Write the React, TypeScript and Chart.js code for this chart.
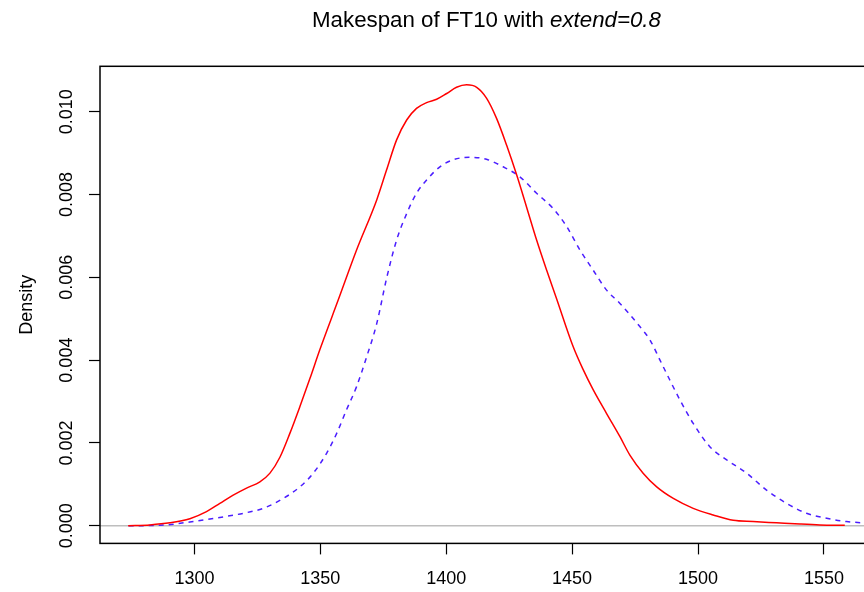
import React, { useEffect, useRef } from "react";
import { Chart, registerables } from "chart.js";

Chart.register(...registerables);

// ---- data ----
const redX = [
  1273.7, 1282.3, 1290.3, 1298.2, 1304.8, 1310.1, 1315.4, 1320.7, 1326.0, 1330.0,
  1334.0, 1337.9, 1341.9, 1345.9, 1349.8, 1357.1, 1364.4, 1372.4, 1376.3,
  1380.3, 1384.3, 1388.2, 1392.2, 1396.2, 1400.2, 1404.1, 1408.1, 1412.1, 1416.0,
  1420.0, 1424.0, 1428.0, 1431.9, 1435.9, 1439.9, 1443.8, 1450.4, 1454.4, 1458.4,
  1463.7, 1469.0, 1473.0, 1478.2, 1483.6, 1490.2, 1498.1, 1506.0, 1514.0, 1521.9,
  1531.2, 1540.5, 1548.4, 1558.3,
];
const redY = [
  0.0, 0.00002, 0.00007, 0.00017, 0.00034, 0.00054, 0.00074, 0.00091, 0.00106, 0.00127,
  0.00166, 0.00223, 0.00288, 0.00356, 0.00425, 0.00545, 0.00666, 0.00787, 0.00859,
  0.00932, 0.0098, 0.01008, 0.01022, 0.0103, 0.01044, 0.01059, 0.01065, 0.01059, 0.01033,
  0.00984, 0.00919, 0.00847, 0.0077, 0.0069, 0.00617, 0.00549, 0.00433, 0.00377, 0.00328,
  0.00271, 0.00215, 0.0017, 0.00127, 0.00094, 0.00066, 0.00042, 0.00026, 0.00013, 0.0001,
  0.00007, 0.00004, 0.00002, 0.00001,
];
const blueX = [
  1273.9, 1286.3, 1298.2, 1310.1, 1319.4, 1327.3, 1335.3, 1341.9, 1347.2, 1352.5,
  1356.5, 1360.4, 1364.4, 1368.4, 1372.4, 1376.3, 1380.3, 1384.3, 1388.2, 1392.2,
  1397.5, 1402.8, 1409.4, 1416.0, 1422.6, 1429.2, 1435.9, 1442.5, 1447.8, 1453.1,
  1458.4, 1463.7, 1469.0, 1476.9, 1480.9, 1484.9, 1488.8, 1492.8, 1498.1, 1504.7,
  1511.4, 1519.3, 1527.2, 1535.2, 1543.1, 1551.1, 1559.0, 1565.6, 1575.0,
];
const blueY = [
  0.0, 0.00001, 0.00009, 0.0002, 0.0003, 0.00042, 0.00066, 0.00094, 0.00127, 0.00175,
  0.00223, 0.0028, 0.00336, 0.00408, 0.00488, 0.00597, 0.0069, 0.00754, 0.00803, 0.00835,
  0.00867, 0.00884, 0.0089, 0.00885, 0.00867, 0.00843, 0.00803, 0.00766, 0.00723, 0.00666,
  0.00617, 0.00569, 0.00537, 0.00481, 0.00449, 0.004, 0.00352, 0.00304, 0.00247, 0.00191,
  0.00159, 0.00127, 0.00086, 0.00054, 0.0003, 0.00018, 0.0001, 0.00007, 0.00004,
];
const xTicks = [1300, 1350, 1400, 1450, 1500, 1550];
const yTicks = [0, 0.002, 0.004, 0.006, 0.008, 0.01];
const titleMain = "Makespan of FT10 with ";
const titleItalic = "extend=0.8";
const yTitle = "Density";

const FONT = "'Liberation Sans', Arial, Helvetica, sans-serif";
const CANVAS_W = 900;
const CANVAS_H = 592;

const rPlot = {
  id: "rplot",
  beforeDatasetsDraw(chart: any) {
    const { ctx, chartArea: a, scales } = chart;
    const y0 = scales.y.getPixelForValue(0);
    ctx.save();
    ctx.strokeStyle = "#BEBEBE";
    ctx.lineWidth = 1.5;
    ctx.beginPath();
    ctx.moveTo(a.left, y0);
    ctx.lineTo(a.right, y0);
    ctx.stroke();
    ctx.restore();
  },
  afterDraw(chart: any) {
    const { ctx, chartArea: a } = chart;
    ctx.save();
    ctx.strokeStyle = "#000";
    ctx.lineWidth = 1.5;
    ctx.strokeRect(a.left, a.top, a.right - a.left, a.bottom - a.top);
    // title
    const size = 22.3;
    ctx.fillStyle = "#000";
    ctx.textBaseline = "alphabetic";
    ctx.textAlign = "left";
    ctx.font = `${size}px ${FONT}`;
    const w1 = ctx.measureText(titleMain).width;
    ctx.font = `italic ${size}px ${FONT}`;
    const w2 = ctx.measureText(titleItalic).width;
    const cx = (a.left + a.right) / 2;
    const x0 = cx - (w1 + w2) / 2;
    const base = 27;
    ctx.font = `${size}px ${FONT}`;
    ctx.fillText(titleMain, x0, base);
    ctx.font = `italic ${size}px ${FONT}`;
    ctx.fillText(titleItalic, x0 + w1, base);
    ctx.restore();
  },
};

export default function App() {
  const ref = useRef<HTMLCanvasElement | null>(null);

  useEffect(() => {
    if (!ref.current) return;
    const red = redX.map((x, i) => ({ x, y: redY[i] }));
    const blue = blueX.map((x, i) => ({ x, y: blueY[i] }));
    const tickFont = { family: FONT, size: 18 };
    const chart = new Chart(ref.current, {
      type: "line",
      data: {
        datasets: [
          {
            data: red,
            borderColor: "#FF0000",
            borderWidth: 1.5,
            pointRadius: 0,
            cubicInterpolationMode: "monotone",
            fill: false,
          },
          {
            data: blue,
            borderColor: "#4B1EFF",
            borderWidth: 1.5,
            borderDash: [5, 5],
            pointRadius: 0,
            cubicInterpolationMode: "monotone",
            fill: false,
          },
        ],
      },
      options: {
        animation: false,
        responsive: false,
        devicePixelRatio: 1,
        events: [],
        layout: { padding: { left: 0, top: 66.3, right: CANVAS_W - 873, bottom: 0 } },
        plugins: {
          legend: { display: false },
          title: { display: false },
          tooltip: { enabled: false },
        },
        scales: {
          x: {
            type: "linear",
            min: 1262.5,
            max: 1569.5,
            afterBuildTicks: (s: any) => {
              s.ticks = xTicks.map((v) => ({ value: v }));
            },
            afterFit: (s: any) => {
              s.height = CANVAS_H - 543.4;
            },
            grid: {
              display: true,
              drawOnChartArea: false,
              drawTicks: true,
              tickLength: 11,
              tickColor: "#000",
              tickWidth: 1.2,
            },
            border: { display: false },
            ticks: {
              font: tickFont,
              color: "#000",
              padding: 14,
              autoSkip: false,
              maxRotation: 0,
              minRotation: 0,
              callback: (v: any) => String(v),
            },
          },
          y: {
            type: "linear",
            min: -0.000427,
            max: 0.011097,
            afterBuildTicks: (s: any) => {
              s.ticks = yTicks.map((v) => ({ value: v }));
            },
            afterFit: (s: any) => {
              s.width = 100;
            },
            grid: {
              display: true,
              drawOnChartArea: false,
              drawTicks: true,
              tickLength: 11,
              tickColor: "#000",
              tickWidth: 1.2,
            },
            border: { display: false },
            ticks: {
              font: tickFont,
              color: "#000",
              padding: -1,
              autoSkip: false,
              minRotation: 90,
              maxRotation: 90,
              crossAlign: "center",
              callback: (v: any) => Number(v).toFixed(3),
            },
            title: {
              display: true,
              text: yTitle,
              color: "#000",
              font: { family: FONT, size: 18 },
              padding: { top: 16, bottom: 0 },
            },
          },
        },
      },
      plugins: [rPlot],
    } as any);
    return () => chart.destroy();
  }, []);

  return (
    <div
      style={{
        position: "fixed",
        left: 0,
        top: 0,
        width: 864,
        height: 592,
        overflow: "hidden",
        background: "#fff",
      }}
    >
      <canvas
        ref={ref}
        width={CANVAS_W}
        height={CANVAS_H}
        style={{ display: "block", width: CANVAS_W, height: CANVAS_H }}
      />
    </div>
  );
}
